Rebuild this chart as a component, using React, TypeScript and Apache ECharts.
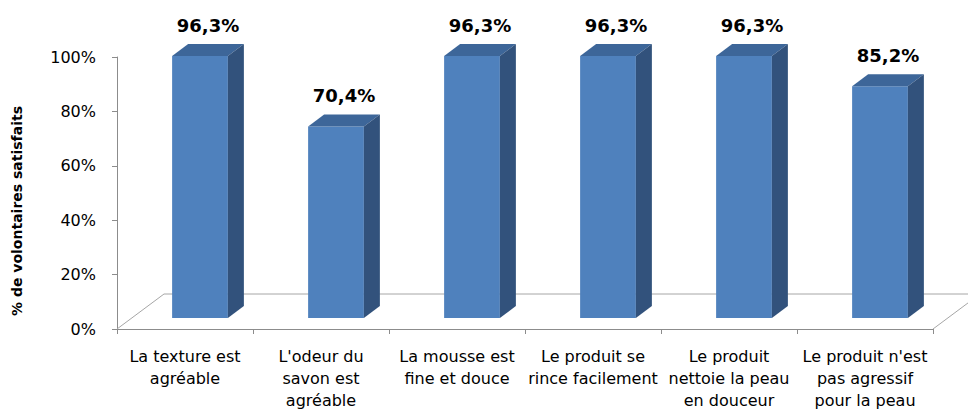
import React, { useEffect, useRef } from "react";
import * as echarts from "echarts";

const categories: string[] = [
  "La texture est\nagréable",
  "L'odeur du\nsavon est\nagréable",
  "La mousse est\nfine et douce",
  "Le produit se\nrince facilement",
  "Le produit\nnettoie la peau\nen douceur",
  "Le produit n'est\npas agressif\npour la peau",
];
const satisfied: number[] = [96.3, 70.4, 96.3, 96.3, 96.3, 85.2];
const yTicks = { min: 0, max: 100, interval: 20 };
const yTitle = "% de volontaires satisfaits";

const FONT = "DejaVu Sans";
const FRONT = "#4F81BD";
const TOP = "#3D6699";
const SIDE = "#32527C";
const FLOOR = "#A6A6A6";
const AXIS = "#8C8C8C";

// 3D offsets (pixels)
const FLOOR_DX = 47;
const FLOOR_DY = -35;
const BAR_FX = 15;
const BAR_FY = -11;
const BAR_DX = 16;
const BAR_DY = -12;

export default function App() {
  const ref = useRef<HTMLDivElement>(null);
  useEffect(() => {
    document.body.style.margin = "0";
    if (!ref.current) return;
    const chart = echarts.init(ref.current, null, { renderer: "svg" });
    const option: any = {
      animation: false,
      backgroundColor: "#ffffff",
      grid: { left: 117, right: 35, top: 57, bottom: 87 },
      xAxis: {
        type: "category",
        data: categories,
        boundaryGap: true,
        axisLine: { show: true, lineStyle: { color: AXIS, width: 1 } },
        axisTick: { show: true, length: 5, lineStyle: { color: AXIS } },
        axisLabel: {
          interval: 0,
          margin: 16,
          fontSize: 16,
          lineHeight: 22,
          color: "#000",
          fontFamily: FONT,
          align: "center",
        },
        splitLine: { show: false },
      },
      yAxis: {
        type: "value",
        min: yTicks.min,
        max: yTicks.max,
        interval: yTicks.interval,
        axisLine: { show: true, lineStyle: { color: AXIS, width: 1 } },
        axisTick: { show: true, length: 5, lineStyle: { color: AXIS } },
        axisLabel: {
          formatter: "{value}%",
          margin: 21,
          fontSize: 16,
          color: "#000",
          fontFamily: FONT,
        },
        splitLine: { show: false },
      },
      graphic: [
        {
          type: "text",
          x: 17,
          y: 211,
          rotation: Math.PI / 2,
          style: {
            text: yTitle,
            fontSize: 14,
            fontWeight: "bold",
            fontFamily: FONT,
            fill: "#000",
            textAlign: "center",
            textVerticalAlign: "middle",
          },
        },
      ],
      series: [
        {
          type: "custom",
          z: 1,
          silent: true,
          data: [[0, 0]],
          encode: { x: 0, y: 1 },
          renderItem: (params: any, api: any) => {
            const cs = params.coordSys;
            const left = cs.x;
            const right = cs.x + cs.width;
            const bottom = cs.y + cs.height;
            return {
              type: "polyline",
              shape: {
                points: [
                  [left, bottom],
                  [left + FLOOR_DX, bottom + FLOOR_DY],
                  [right + FLOOR_DX, bottom + FLOOR_DY],
                  [right, bottom],
                ],
              },
              style: { stroke: FLOOR, lineWidth: 1, fill: "none" },
            };
          },
        },
        {
          type: "custom",
          z: 5,
          data: satisfied.map((v, i) => [i, v]),
          encode: { x: 0, y: 1 },
          renderItem: (params: any, api: any) => {
            const idx = api.value(0);
            const v = api.value(1);
            const base = api.coord([idx, 0]);
            const top = api.coord([idx, v]);
            const band = api.size([1, 0])[0];
            const w = band * 0.41;
            const x0 = base[0] - w / 2 + BAR_FX;
            const x1 = x0 + w;
            const yB = base[1] + BAR_FY;
            const yT = top[1] + BAR_FY;
            const label = v.toFixed(1).replace(".", ",") + "%";
            return {
              type: "group",
              children: [
                {
                  type: "rect",
                  shape: { x: x0, y: yT, width: w, height: yB - yT },
                  style: { fill: FRONT },
                },
                {
                  type: "polygon",
                  shape: {
                    points: [
                      [x0, yT],
                      [x0 + BAR_DX, yT + BAR_DY],
                      [x1 + BAR_DX, yT + BAR_DY],
                      [x1, yT],
                    ],
                  },
                  style: { fill: TOP },
                },
                {
                  type: "polygon",
                  shape: {
                    points: [
                      [x1, yT],
                      [x1 + BAR_DX, yT + BAR_DY],
                      [x1 + BAR_DX, yB + BAR_DY],
                      [x1, yB],
                    ],
                  },
                  style: { fill: SIDE },
                },
                {
                  type: "text",
                  x: (x0 + x1 + BAR_DX) / 2,
                  y: yT + BAR_DY - 19,
                  style: {
                    text: label,
                    fontSize: 18,
                    fontWeight: "bold",
                    fontFamily: FONT,
                    fill: "#000",
                    textAlign: "center",
                    textVerticalAlign: "middle",
                  },
                },
              ],
            };
          },
        },
      ],
    };
    chart.setOption(option);
    return () => chart.dispose();
  }, []);
  return <div ref={ref} style={{ width: 968, height: 416 }} />;
}
